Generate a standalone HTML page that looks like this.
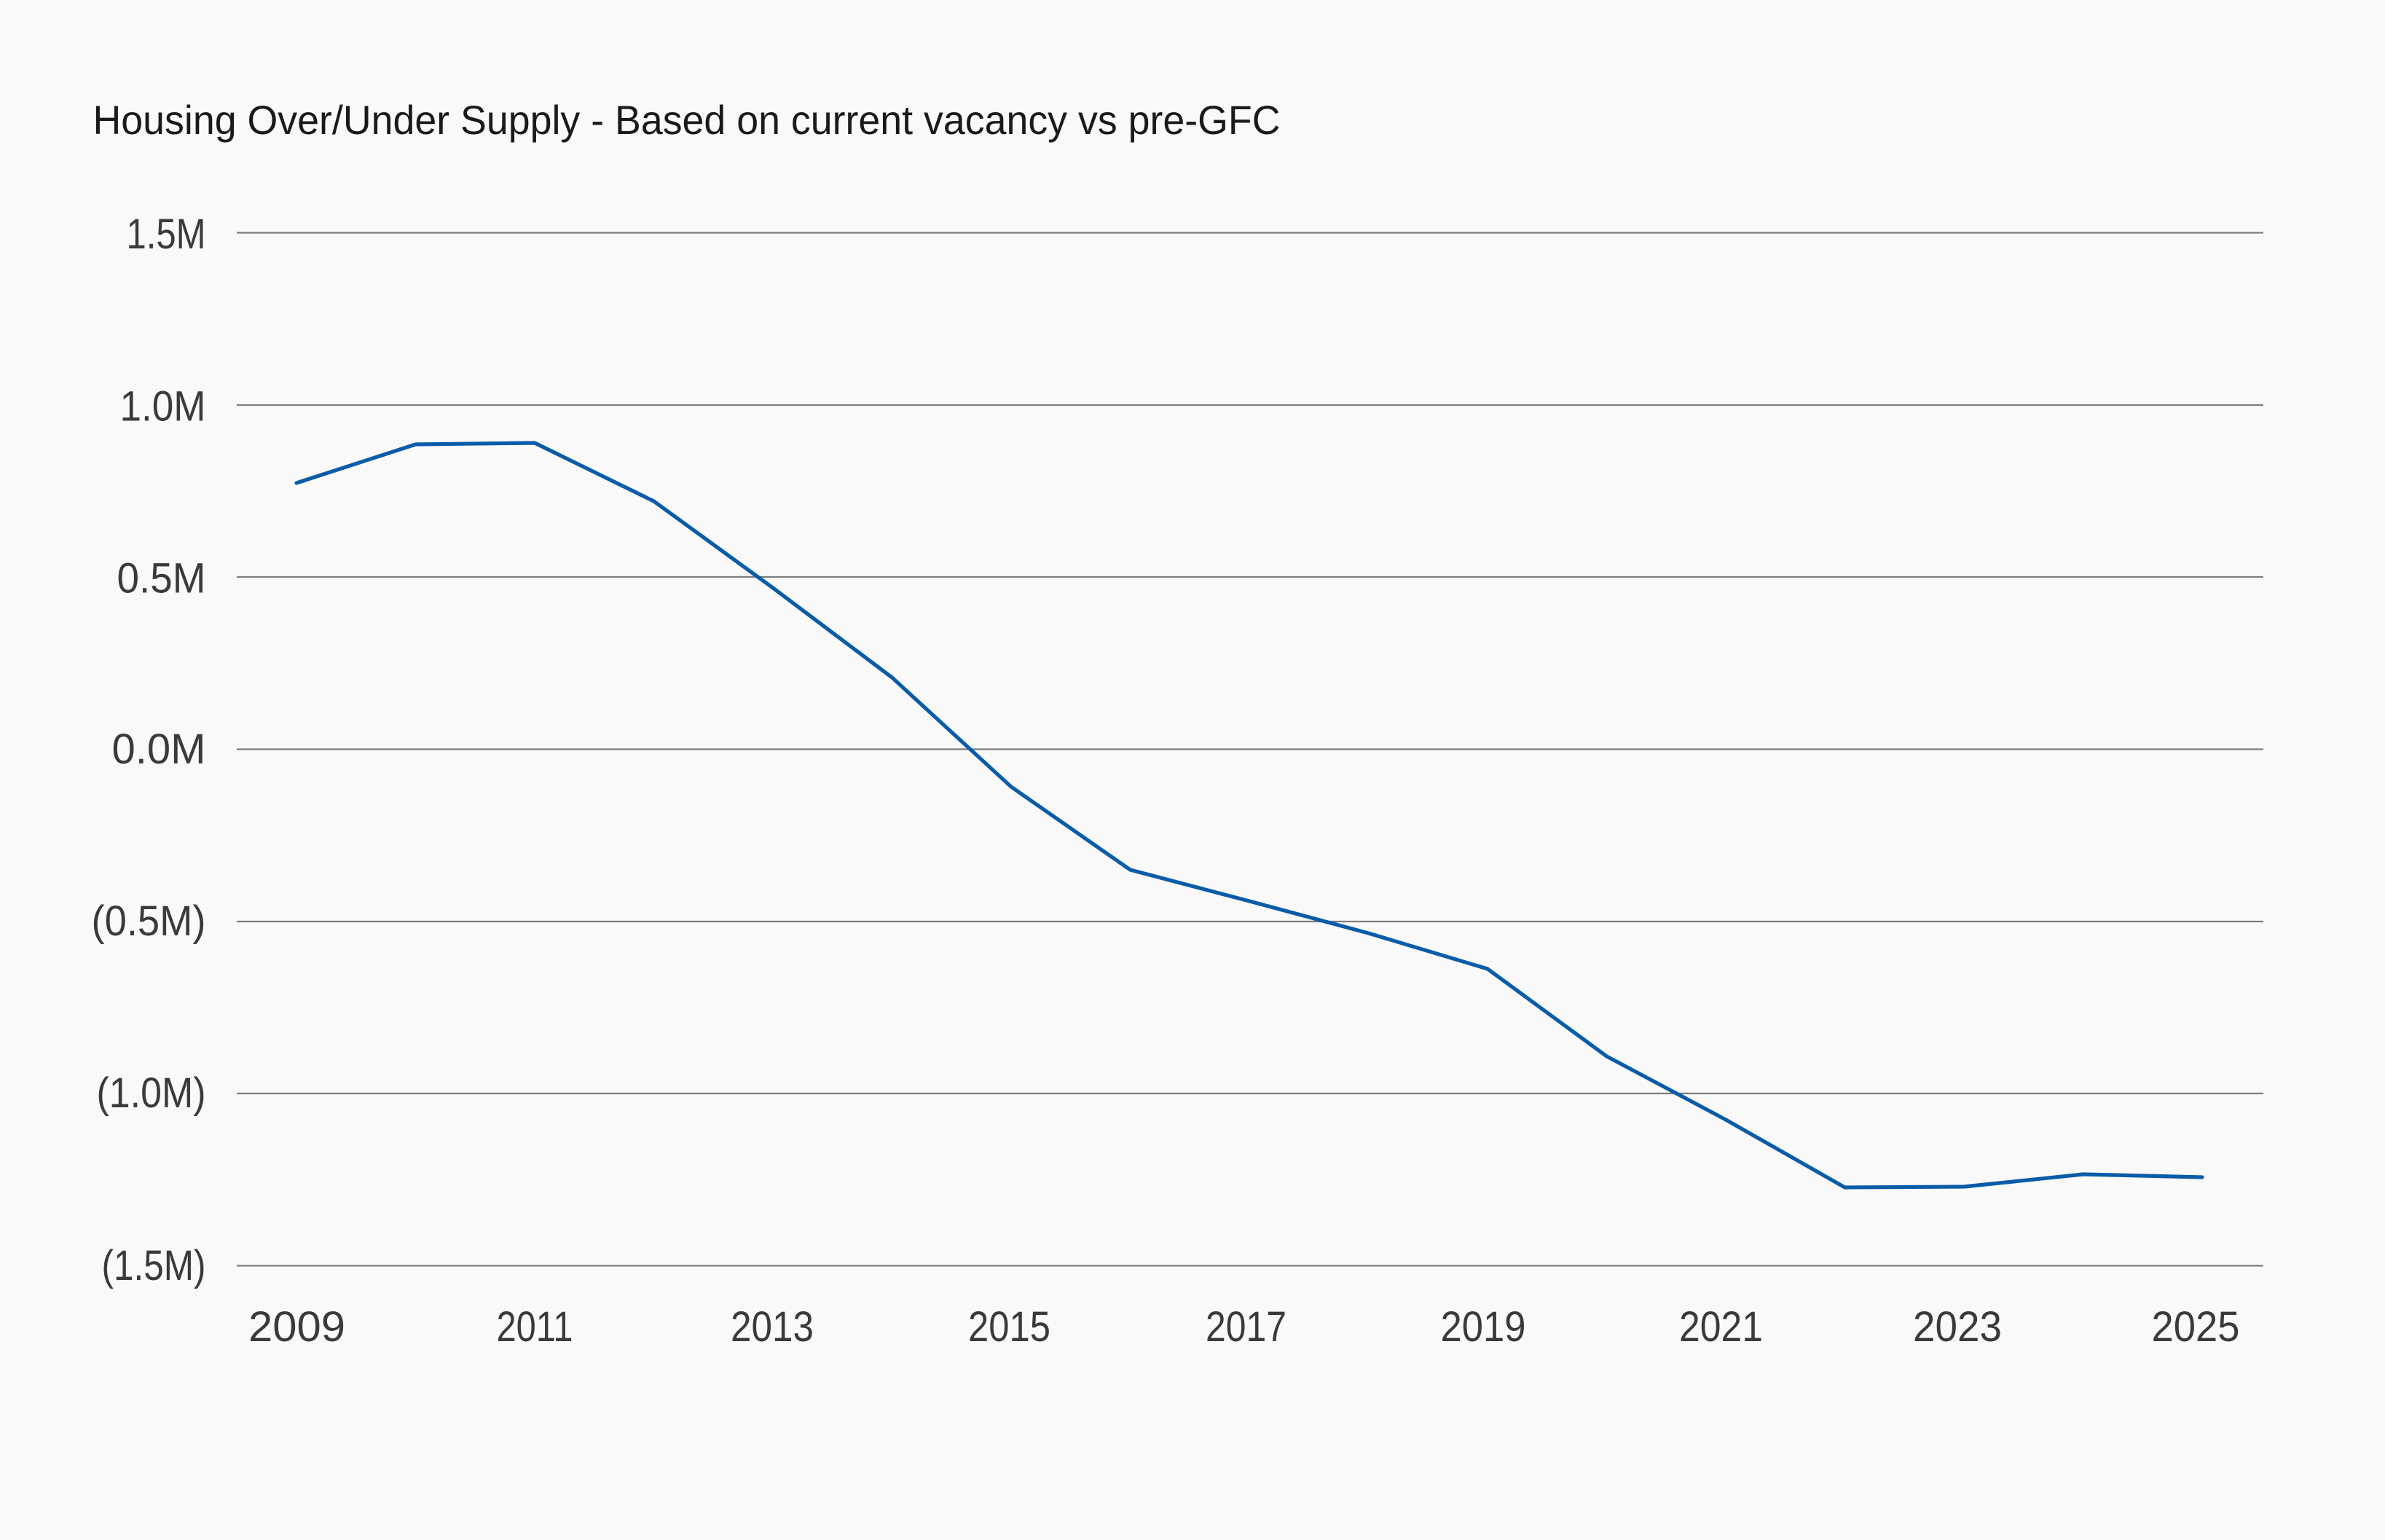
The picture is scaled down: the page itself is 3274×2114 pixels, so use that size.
<!DOCTYPE html>
<html>
<head>
<meta charset="utf-8">
<style>
  html, body { margin: 0; padding: 0; background: #f9f9f9; }
  body { width: 3274px; height: 2114px; overflow: hidden; }
  svg { display: block; }
  text { font-family: "Liberation Sans", "DejaVu Sans", sans-serif; }
</style>
</head>
<body>
<svg width="3274" height="2114" viewBox="0 0 3274 2114" xmlns="http://www.w3.org/2000/svg">
  <rect x="0" y="0" width="3274" height="2114" fill="#f9f9f9"/>

  <!-- Title -->
  <text x="127.5" y="184" font-size="56" fill="#1a1a1a" textLength="1630" lengthAdjust="spacingAndGlyphs">Housing Over/Under Supply - Based on current vacancy vs pre-GFC</text>

  <!-- Gridlines -->
  <g stroke="#7d7d7d" stroke-width="2.2">
    <line x1="325" y1="319.5" x2="3107" y2="319.5"/>
    <line x1="325" y1="556" x2="3107" y2="556"/>
    <line x1="325" y1="792" x2="3107" y2="792"/>
    <line x1="325" y1="1028.5" x2="3107" y2="1028.5"/>
    <line x1="325" y1="1265" x2="3107" y2="1265"/>
    <line x1="325" y1="1501" x2="3107" y2="1501"/>
    <line x1="325" y1="1737.5" x2="3107" y2="1737.5"/>
  </g>

  <!-- Y axis labels -->
  <g font-size="58" fill="#3a3a3a" text-anchor="end">
    <text x="282.5" y="341" textLength="109" lengthAdjust="spacingAndGlyphs">1.5M</text>
    <text x="282.5" y="577.5" textLength="118" lengthAdjust="spacingAndGlyphs">1.0M</text>
    <text x="282.5" y="813.5" textLength="122" lengthAdjust="spacingAndGlyphs">0.5M</text>
    <text x="282.5" y="1048" textLength="129" lengthAdjust="spacingAndGlyphs">0.0M</text>
    <text x="282.5" y="1284" textLength="157" lengthAdjust="spacingAndGlyphs">(0.5M)</text>
    <text x="282.5" y="1520" textLength="150" lengthAdjust="spacingAndGlyphs">(1.0M)</text>
    <text x="282.5" y="1757" textLength="143" lengthAdjust="spacingAndGlyphs">(1.5M)</text>
  </g>

  <!-- X axis labels -->
  <g font-size="58" fill="#3a3a3a" text-anchor="middle">
    <text x="407.5" y="1841" textLength="133" lengthAdjust="spacingAndGlyphs">2009</text>
    <text x="734" y="1841" textLength="105" lengthAdjust="spacingAndGlyphs">2011</text>
    <text x="1060" y="1841" textLength="114" lengthAdjust="spacingAndGlyphs">2013</text>
    <text x="1385.5" y="1841" textLength="113" lengthAdjust="spacingAndGlyphs">2015</text>
    <text x="1710.5" y="1841" textLength="111" lengthAdjust="spacingAndGlyphs">2017</text>
    <text x="2036" y="1841" textLength="117" lengthAdjust="spacingAndGlyphs">2019</text>
    <text x="2362.5" y="1841" textLength="115" lengthAdjust="spacingAndGlyphs">2021</text>
    <text x="2687" y="1841" textLength="122" lengthAdjust="spacingAndGlyphs">2023</text>
    <text x="3014" y="1841" textLength="121" lengthAdjust="spacingAndGlyphs">2025</text>
  </g>

  <!-- Series line -->
  <polyline fill="none" stroke="#0a5ca8" stroke-width="5.2" stroke-linejoin="round" stroke-linecap="round"
    points="407,663 570.5,610 734,608 897.5,688 1061,807 1224.5,930 1388,1080 1551.5,1194 1715,1237 1878.5,1281 2042,1330 2205.5,1450 2369,1537 2532.5,1630 2696,1629 2859.5,1612 3023,1616"/>
</svg>
</body>
</html>
